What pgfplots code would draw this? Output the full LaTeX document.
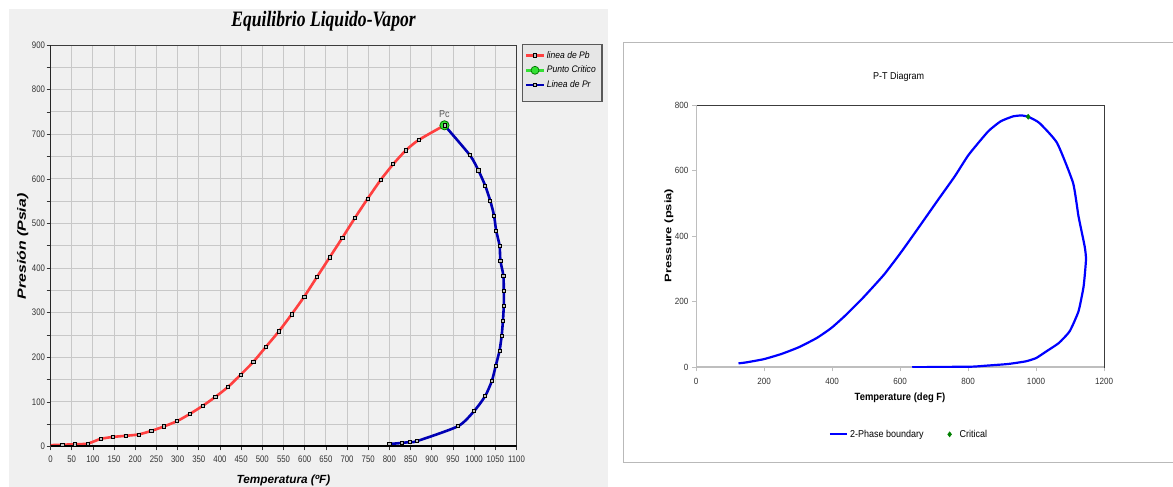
\documentclass[border=0pt]{standalone}
\usepackage{fontspec}
\setmainfont{Liberation Sans}
\newfontfamily\lcond[FakeStretch=0.82]{Liberation Sans}
\newfontfamily\rcond[FakeStretch=0.9]{Liberation Sans}
\newfontfamily\ttl[FakeStretch=0.8]{Liberation Serif}
\newfontfamily\ywide[FakeStretch=1.32]{Liberation Sans}
\newfontfamily\ywider[FakeStretch=1.36]{Liberation Sans}
\usepackage{pgfplots}
\pgfplotsset{compat=1.18}
\definecolor{panel}{HTML}{F0F0F0}
\definecolor{gridc}{HTML}{C8C8C8}
\definecolor{pbred}{HTML}{FF4040}
\definecolor{prblue}{HTML}{0000B4}
\definecolor{pcgreen}{HTML}{33E033}
\definecolor{critgreen}{HTML}{008000}
\definecolor{spinelight}{HTML}{BEBEBE}
\definecolor{spinedark}{HTML}{3C3C3C}

\pgfplotstableread{
T P
0 3
28 4
58 5
88 6.5
118 17
148 21.5
178 24
208 27
238 35
268 45
299 57
329 73
359 91
389 111
419 133.5
449 161
479 190
509 224
539 258
569 296
599 336
629 380
659 424
689 468
719 513
749 556
779 597
809 633
839 664
869 687
930 720
}\pbtable

\pgfplotstableread{
T P
930 720
990 653
1010 619
1026 585
1038 551
1047 517.5
1052 484
1060 450.5
1062 417
1069 383
1070 349.5
1070 316
1068 282
1065 248.5
1060 215
1051 181
1042 147.5
1026 113
1000 79.5
962 45.5
865 12
849 10
829 8
800 5.5
}\prtable

\pgfplotstableread{
T P
125 12
148 15
200 25
252 41
304 62
356 90
398 120
439 158
491 212
553 283
605 354
657 430
709 507
761 583
802 649
859 720
896 751
932 766
958 769
979 764
1010 746
1062 685
1109 563
1125 461
1143 370
1147 329
1140 247
1125 171
1099 110
1067 74
1031 49
1000 28
969 18
917 10
854 5
813 2
709 1
636 0
}\ptable

\begin{document}
\begin{tikzpicture}[x=1pt,y=1pt]
\fill[white] (0,0) rectangle (1173,487);
\fill[panel] (8.7,0) rectangle (608,478);
\draw[gray!55, line width=1pt] (1173,444) -- (623.5,444) -- (623.5,24) -- (1173,24);
\draw[draw=black!65, fill=panel!96!black, line width=1.2pt] (522.7,385.3) rectangle (602,442.3);

% ---------------- left chart ----------------
\begin{axis}[
  at={(50.5pt,40.5pt)}, anchor=south west, scale only axis,
  width=466pt, height=401.5pt,
  xmin=0, xmax=1100, ymin=0, ymax=900,
  xtick={0,50,...,1100}, ytick={0,100,...,900}, minor ytick={50,150,...,850},
  grid=both,
  major grid style={gridc, line width=0.9pt},
  minor grid style={gridc, line width=0.9pt},
  axis background/.style={fill=panel},
  axis line style={spinedark, line width=0.6pt},
  tick align=outside, tick pos=left,
  major tick length=4pt, minor tick length=4pt,
  tick style={black!80, line width=0.6pt},
  /pgf/number format/assume math mode=true,
  /pgf/number format/1000 sep={},
  scaled ticks=false,
  tick label style={font=\lcond\fontsize{9.5}{10}\selectfont, text=black!80},
  xticklabel style={yshift=-1.5pt},
  yticklabel style={xshift=2pt},
  legend style={at={(axis description cs:1.016,0.9925)}, anchor=north west,
    draw=none, fill=none, inner sep=1pt, row sep=2.5pt,
    font=\rcond\itshape\fontsize{9.5}{10}\selectfont},
  legend cell align=left,
]
\addlegendimage{pbred, line width=2.6pt, mark=square*, mark size=1.6pt, mark options={fill=gray!50, draw=black, line width=0.7pt}}
\addlegendentry{linea de Pb}
\addlegendimage{pcgreen, line width=2.6pt, mark=*, mark size=4pt, mark options={fill=pcgreen, draw=green!45!black, line width=0.7pt}}
\addlegendentry{Punto Critico}
\addlegendimage{prblue, line width=2.6pt, mark=square*, mark size=1.6pt, mark options={fill=gray!50, draw=black, line width=0.7pt}}
\addlegendentry{Linea de Pr}

\addplot[pbred, line width=2.6pt, smooth, tension=0.4, forget plot] table[x=T,y=P] {\pbtable};
\addplot[prblue, line width=2.6pt, smooth, tension=0.4, forget plot] table[x=T,y=P] {\prtable};
\addplot[only marks, mark=square*, mark size=1.6pt, mark options={fill=gray!50, draw=black, line width=0.7pt}, forget plot, skip coords between index={0}{1}] table[x=T,y=P] {\pbtable};
\addplot[only marks, mark=square*, mark size=1.6pt, mark options={fill=gray!50, draw=black, line width=0.7pt}, forget plot, skip coords between index={0}{1}] table[x=T,y=P] {\prtable};
\addplot[only marks, mark=*, mark size=4.6pt, mark options={fill=pcgreen, draw=green!45!black, line width=0.8pt}, forget plot] coordinates {(930,720)};
\addplot[only marks, mark=square*, mark size=1.6pt, mark options={fill=gray!50, draw=black, line width=0.7pt}, forget plot] coordinates {(930,720)};
\draw[black, line width=1.6pt] (rel axis cs:0,0) -- (rel axis cs:0,1);
\draw[black, line width=2.8pt] (rel axis cs:0,0) -- (rel axis cs:1,0);
\node[font=\rcond\fontsize{10}{11}\selectfont, text=black!65] at (axis cs:930,745) {Pc};
\end{axis}

\node[font=\ttl\bfseries\itshape\fontsize{22}{24}\selectfont] at (323.5,466) {Equilibrio Liquido-Vapor};
\node[font=\bfseries\itshape\fontsize{11.8}{13}\selectfont] at (283.5,7) {Temperatura (ºF)};
\node[font=\ywide\bfseries\itshape\fontsize{12}{13}\selectfont, rotate=90] at (22.7,240.5) {Presión (Psia)};

% ---------------- right chart ----------------
\begin{axis}[
  at={(696pt,119.7pt)}, anchor=south west, scale only axis,
  width=408pt, height=262pt,
  xmin=0, xmax=1200, ymin=0, ymax=800,
  xtick={0,200,...,1200}, ytick={0,200,...,800},
  axis line style={spinedark, line width=0.8pt},
  tick align=outside, tick pos=left,
  major tick length=4pt,
  tick style={spinelight, line width=0.8pt},
  /pgf/number format/assume math mode=true,
  /pgf/number format/1000 sep={},
  scaled ticks=false,
  tick label style={font=\rcond\fontsize{9}{10}\selectfont, text=black!80},
  xticklabel style={yshift=-3pt},
  legend style={at={(axis description cs:0.522,-0.256)}, anchor=center,
    draw=none, fill=none, font=\rcond\fontsize{10}{12}\selectfont,
    /tikz/every even column/.append style={column sep=22pt}},
  legend columns=2,
]
\draw[spinelight, line width=2pt] (rel axis cs:0,0) -- (rel axis cs:0,1);
\draw[spinelight, line width=2pt] (rel axis cs:0,0) -- (rel axis cs:1,0);
\addplot[blue, line width=2.2pt, smooth, tension=0.3] table[x=T,y=P] {\ptable};
\addlegendentry{2-Phase boundary}
\addplot[only marks, mark=diamond*, mark size=2.6pt, color=critgreen] coordinates {(977,765)};
\addlegendentry{\hspace{6pt}Critical}
\end{axis}

\node[font=\rcond\fontsize{10}{12}\selectfont] at (898.7,410.3) {P-T Diagram};
\node[font=\rcond\bfseries\fontsize{10.5}{12}\selectfont] at (900,89) {Temperature (deg F)};
\node[font=\ywider\bfseries\fontsize{9.5}{10}\selectfont, rotate=90] at (669,251.5) {Pressure (psia)};

\pgfresetboundingbox
\useasboundingbox (0,0) rectangle (1173,487);
\end{tikzpicture}
\end{document}
